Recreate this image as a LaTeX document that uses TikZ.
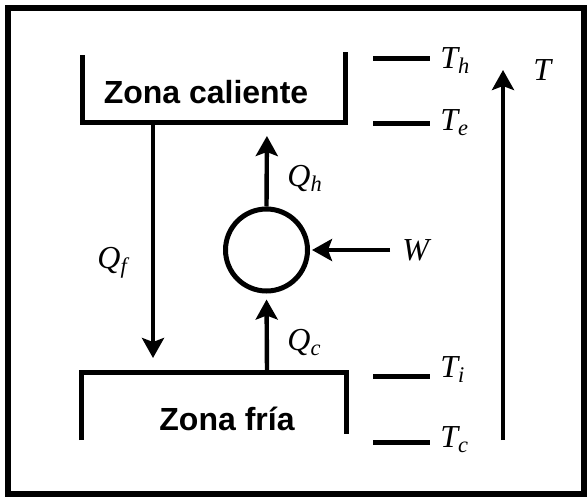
\documentclass[tikz,border=0pt]{standalone}
\usepackage{fontspec}
\setmainfont{Liberation Serif}
\setsansfont{Liberation Sans}
\usetikzlibrary{arrows.meta}

\begin{document}
\begin{tikzpicture}[
    x=0.5pt, y=-0.5pt,
    wall/.style={line width=2.5pt, line join=miter},
    tick/.style={line width=2.5pt},
    flow/.style={-{Stealth[length=10pt, width=11pt, inset=2pt]}, line width=2.2pt},
    zonetxt/.style={font=\sffamily\bfseries\fontsize{16}{19}\selectfont},
    sym/.style={anchor=base west, inner sep=0pt,
                font=\itshape\fontsize{16}{19}\selectfont},
  ]
    \useasboundingbox (0,0) rectangle (587,498);
    \draw[line width=3pt] (8,8) rectangle (584,494);

    % the two zones
    \draw[wall] (82,55) |- (345,122) -- (345,52);
    \draw[wall] (81,440) |- (346,372) -- (346,434);
    \node[zonetxt] (hot)  at (206,92)  {Zona caliente};
    \node[zonetxt] (cold) at (227,419) {Zona fría};

    \coordinate (hotQf)  at (153,122);
    \coordinate (coldQf) at (153,372);
    \coordinate (hotQh)  at (267,122);
    \coordinate (coldQc) at (267,372);
    \coordinate (wIn)    at (390,250);

    % machine
    \node[draw, circle, line width=2.5pt, minimum size=41pt, inner sep=0pt]
      (pump) at (266.5,250) {};

    \draw[flow, shorten >=7pt]   (hotQf)  -- (coldQf);
    \draw[flow, shorten >=3pt]   (coldQc) -- (pump.south);
    \draw[flow, shorten >=7pt]   (pump.north) -- (hotQh);
    \draw[flow, shorten >=1pt]   (wIn) -- (pump.east);

    \node[sym] (qf) at (97,268)  {Q\textsubscript{f}};
    \node[sym] (qc) at (287,350) {Q\textsubscript{c}};
    \node[sym] (qh) at (287,186) {Q\textsubscript{h}};
    \node[sym] (w)  at (402,260) {W};

    % temperature levels
    \draw[tick] (373,58)  -- (430,58);
    \draw[tick] (373,123) -- (430,123);
    \draw[tick] (373,376) -- (430,376);
    \draw[tick] (373,442) -- (430,442);
    \node[sym] (th) at (440,68)  {T\textsubscript{h}};
    \node[sym] (te) at (440,130) {T\textsubscript{e}};
    \node[sym] (ti) at (440,377) {T\textsubscript{i}};
    \node[sym] (tc) at (440,447) {T\textsubscript{c}};

    \coordinate (tLow)  at (503,440);
    \coordinate (tHigh) at (503,70);
    \draw[flow] (tLow) -- (tHigh);
    \node[sym] (t) at (533,80) {T};
\end{tikzpicture}
\end{document}
